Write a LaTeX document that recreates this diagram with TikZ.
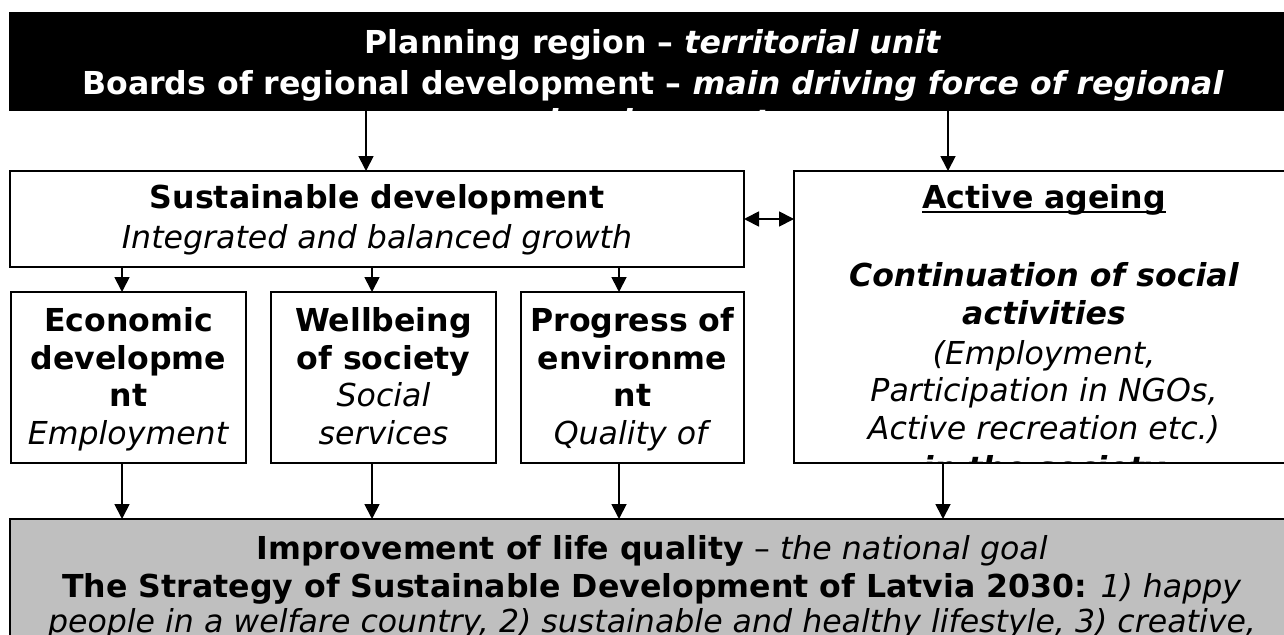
\documentclass[tikz,border=0pt]{standalone}
\usepackage{fontspec}
\setmainfont{DejaVu Sans}
\usetikzlibrary{arrows.meta}
\begin{document}
\begin{tikzpicture}[x=1pt,y=-1pt,
  frame/.style={draw=black, line width=1.2pt, fill=white, inner sep=0pt, outer sep=0pt,
                anchor=north west},
  txt/.style={inner sep=0pt, anchor=base, font=\fontsize{31.6}{38}\selectfont},
  arr/.style={line width=1.8pt, -{Triangle[length=15pt,width=15pt]}},
  dblarr/.style={line width=1.8pt, {Triangle[length=15pt,width=15pt]}-{Triangle[length=15pt,width=15pt]}}]
\useasboundingbox (0,0) rectangle (1284,634);
\fill[white] (0,0) rectangle (1284,634);

% ---- frames ----
\node[frame, fill=black, minimum width=1286pt, minimum height=97pt] (top) at (10,13) {};
\node[frame, line width=1.8pt, minimum width=734pt, minimum height=96pt] (sd) at (10,171) {};
\node[frame, minimum width=502pt, minimum height=292pt] (aa) at (794,171) {};
\node[frame, minimum width=235pt, minimum height=171pt] (ec) at (11,292) {};
\node[frame, minimum width=225pt, minimum height=171pt] (wb) at (271,292) {};
\node[frame, minimum width=223pt, minimum height=171pt] (pe) at (521,292) {};
\node[frame, fill=black!25, minimum width=1286pt, minimum height=140pt] (gr) at (10,519) {};

% ---- planning region ----
\begin{scope}
  \clip (top.north west) rectangle (top.south east);
  \node[txt, white] (t1) at (653,53) {\textbf{Planning region – \textit{territorial unit}}};
  \node[txt, white] (t2) at (653,94) {\textbf{Boards of regional development – \textit{main driving force of regional}}};
  \node[txt, white] (t3) at (653,132) {\textbf{\textit{development}}};
\end{scope}

% ---- sustainable development ----
\node[txt] (s1) at (377,208) {\textbf{Sustainable development}};
\node[txt] (s2) at (377,248) {\textit{Integrated and balanced growth}};

% ---- three pillars ----
\node[txt] (e1) at (128.5,331) {\textbf{Economic}};
\node[txt] (e2) at (128.5,369) {\textbf{developme}};
\node[txt] (e3) at (128.5,406) {\textbf{nt}};
\node[txt] (e4) at (128.5,444) {\textit{Employment}};

\node[txt] (w1) at (383.5,331) {\textbf{Wellbeing}};
\node[txt] (w2) at (383.5,369) {\textbf{of society}};
\node[txt] (w3) at (383.5,406) {\textit{Social}};
\node[txt] (w4) at (383.5,444) {\textit{services}};

\node[txt] (p1) at (632.5,331) {\textbf{Progress of}};
\node[txt] (p2) at (632.5,369) {\textbf{environme}};
\node[txt] (p3) at (632.5,406) {\textbf{nt}};
\node[txt] (p4) at (632.5,444) {\textit{Quality of}};

% ---- active ageing ----
\node[txt] (a1) at (1044,208) {\textbf{Active ageing}};
\draw[line width=2.4pt] ([yshift=-4pt]a1.base west) -- ([yshift=-4pt]a1.base east);
\node[txt] (a2) at (1044,286) {\textbf{\textit{Continuation of social}}};
\node[txt] (a3) at (1044,324) {\textbf{\textit{activities}}};
\node[txt] (a4) at (1044,364) {\textit{(Employment,}};
\node[txt] (a5) at (1044,401) {\textit{Participation in NGOs,}};
\node[txt] (a6) at (1044,439) {\textit{Active recreation etc.)}};
\begin{scope}
  \clip (aa.north west) rectangle (aa.south east);
  \node[txt] (a7) at (1044,479) {\textbf{\textit{in the society}}};
\end{scope}

% ---- national goal ----
\node[txt] (g1) at (652,559) {\textbf{Improvement of life quality} – \textit{the national goal}};
\node[txt] (g2) at (652,597) {\textbf{The Strategy of Sustainable Development of Latvia 2030:} \textit{1) happy}};
\node[txt] (g3) at (652,632) {\textit{people in a welfare country, 2) sustainable and healthy lifestyle, 3) creative,}};

% ---- arrow columns ----
\coordinate (k1) at (366,0);
\coordinate (k2) at (948,0);
\coordinate (m1) at (122,0);
\coordinate (m2) at (372,0);
\coordinate (m3) at (619,0);
\coordinate (m4) at (943,0);

% ---- connectors ----
\draw[arr] (top.south -| k1) -- (sd.north -| k1);
\draw[arr] (top.south -| k2) -- (aa.north -| k2);
\draw[arr] (sd.south -| m1) -- (ec.north -| m1);
\draw[arr] (sd.south -| m2) -- (wb.north -| m2);
\draw[arr] (sd.south -| m3) -- (pe.north -| m3);
\draw[dblarr] (sd.east) -- (sd.east -| aa.west);
\draw[arr] (ec.south -| m1) -- (gr.north -| m1);
\draw[arr] (wb.south -| m2) -- (gr.north -| m2);
\draw[arr] (pe.south -| m3) -- (gr.north -| m3);
\draw[arr] (aa.south -| m4) -- (gr.north -| m4);
\end{tikzpicture}
\end{document}
